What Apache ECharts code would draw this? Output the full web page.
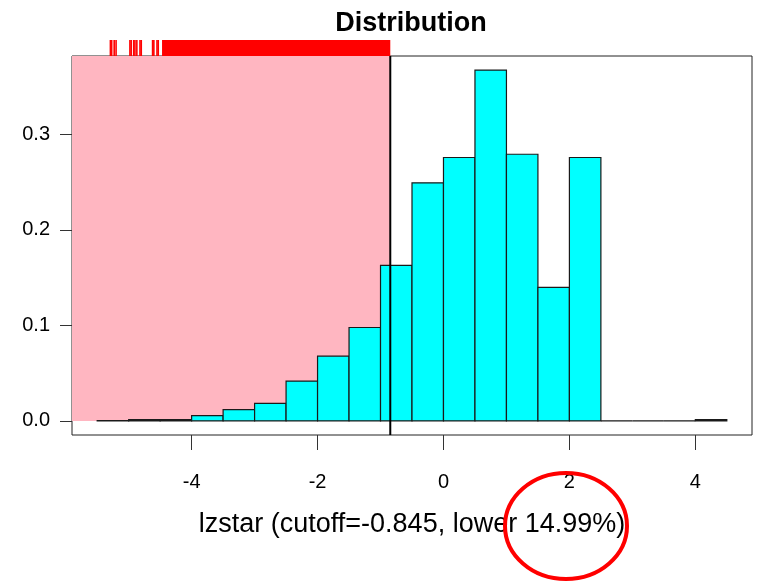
<!DOCTYPE html>
<html>
<head>
<meta charset="utf-8">
<title>Distribution</title>
<script src="https://cdn.jsdelivr.net/npm/echarts@6/dist/echarts.min.js"></script>
<style>
  html, body { margin: 0; padding: 0; background: #fff; }
  #chart { width: 760px; height: 584px; }
</style>
</head>
<body>
<div id="chart"></div>
<script>
// histogram bins (left edge) and density heights
var binLeft = [-5.5, -5, -4.5, -4, -3.5, -3, -2.5, -2, -1.5, -1, -0.5, 0, 0.5, 1, 1.5, 2, 2.5, 3, 3.5, 4];
var density = [0.0003, 0.0015, 0.0015, 0.0055, 0.0118, 0.0185, 0.0418, 0.0679, 0.0979, 0.163,
               0.2494, 0.2759, 0.3675, 0.2793, 0.140, 0.2759, 0, 0, 0, 0.0015];
var binWidth = 0.5;

var cutoff = -0.845;
var lowerPct = 14.99;

// rug of values below the cutoff: a few lone ones, then a solid run
var rugSingles = [-5.29, -5.27, -5.23, -5.20, -4.98, -4.96, -4.92, -4.90, -4.87, -4.82, -4.80,
                  -4.62, -4.60, -4.55, -4.53];
var rugDenseFrom = -4.47;

var xTicks = [-4, -2, 0, 2, 4];
var yTicks = [0, 0.1, 0.2, 0.3];

var xMin = -5.9, xMax = 4.9;
var yMin = -0.0147, yMax = 0.3822;

var FONT = "'Liberation Sans', Arial, sans-serif";

var chart = echarts.init(document.getElementById('chart'));

var bars = binLeft.map(function (b, i) { return [b, b + binWidth, density[i]]; });
var rug = rugSingles.map(function (v) { return [v, v]; });
rug.push([rugDenseFrom, cutoff]);

chart.setOption({
  animation: false,
  title: {
    text: 'Distribution',
    left: 411, top: 10, textAlign: 'center', padding: 0,
    textStyle: { fontFamily: FONT, fontSize: 27, fontWeight: 'bold', color: '#000' }
  },
  grid: [
    { left: 72, right: 8, top: 56, bottom: 149, show: true, borderColor: '#222', borderWidth: 1, backgroundColor: 'transparent' },
    { left: 72, right: 8, top: 40, height: 16 }
  ],
  xAxis: [{
    type: 'value', gridIndex: 0, min: xMin, max: xMax,
    splitLine: { show: false },
    axisLine: { show: false, onZero: false },
    axisTick: { show: true, length: 15, customValues: xTicks, lineStyle: { color: '#333', width: 1 } },
    axisLabel: { customValues: xTicks, margin: 37, fontFamily: FONT, fontSize: 20, color: '#000' },
    name: 'lzstar (cutoff=' + cutoff + ', lower ' + lowerPct + '%)',
    nameLocation: 'middle', nameGap: 76,
    nameTextStyle: { fontFamily: FONT, fontSize: 27, color: '#000' }
  }, {
    type: 'value', gridIndex: 1, min: xMin, max: xMax, show: false
  }],
  yAxis: [{
    type: 'value', gridIndex: 0, min: yMin, max: yMax,
    splitLine: { show: false },
    axisLine: { show: false, onZero: false },
    axisTick: { show: true, length: 12, customValues: yTicks, lineStyle: { color: '#333', width: 1 } },
    axisLabel: {
      customValues: yTicks, margin: 22, fontFamily: FONT, fontSize: 20, color: '#000',
      formatter: function (v) { return v.toFixed(1); }
    }
  }, {
    type: 'value', gridIndex: 1, min: 0, max: 1, show: false
  }],
  series: [{
    // shaded lower tail
    type: 'custom', xAxisIndex: 0, yAxisIndex: 0, z: 1, silent: true,
    data: [[xMin, cutoff]],
    renderItem: function (params, api) {
      var a = api.coord([api.value(0), 0]);
      var b = api.coord([api.value(1), yMax]);
      return { type: 'rect', shape: { x: a[0], y: b[1], width: b[0] - a[0], height: a[1] - b[1] },
               style: { fill: '#FFB6C1' } };
    }
  }, {
    type: 'custom', name: 'density', xAxisIndex: 0, yAxisIndex: 0, z: 2,
    data: bars,
    renderItem: function (params, api) {
      var a = api.coord([api.value(0), 0]);
      var b = api.coord([api.value(1), api.value(2)]);
      return { type: 'rect', shape: { x: a[0], y: b[1], width: b[0] - a[0], height: a[1] - b[1] },
               style: { fill: '#00FFFF', stroke: '#1a1a1a', lineWidth: 1.2 } };
    }
  }, {
    // cutoff line
    type: 'custom', xAxisIndex: 0, yAxisIndex: 0, z: 3, silent: true,
    data: [[cutoff]],
    renderItem: function (params, api) {
      var a = api.coord([api.value(0), yMin]);
      var b = api.coord([api.value(0), yMax]);
      return { type: 'line', shape: { x1: a[0], y1: a[1], x2: b[0], y2: b[1] },
               style: { stroke: '#000', lineWidth: 2 } };
    }
  }, {
    // rug above the panel
    type: 'custom', xAxisIndex: 1, yAxisIndex: 1, z: 2, silent: true,
    data: rug,
    renderItem: function (params, api) {
      var a = api.coord([api.value(0), 0]);
      var b = api.coord([api.value(1), 1]);
      var w = Math.max(b[0] - a[0], 1.6);
      return { type: 'rect', shape: { x: a[0] - (b[0] > a[0] ? 0 : 0.8), y: b[1], width: w, height: a[1] - b[1] },
               style: { fill: '#FF0000' } };
    }
  }],
  graphic: [{
    type: 'ellipse',
    shape: { cx: 566, cy: 526, rx: 61, ry: 53 },
    style: { fill: 'none', stroke: '#FF0000', lineWidth: 4 },
    z: 100
  }]
});
</script>
</body>
</html>
